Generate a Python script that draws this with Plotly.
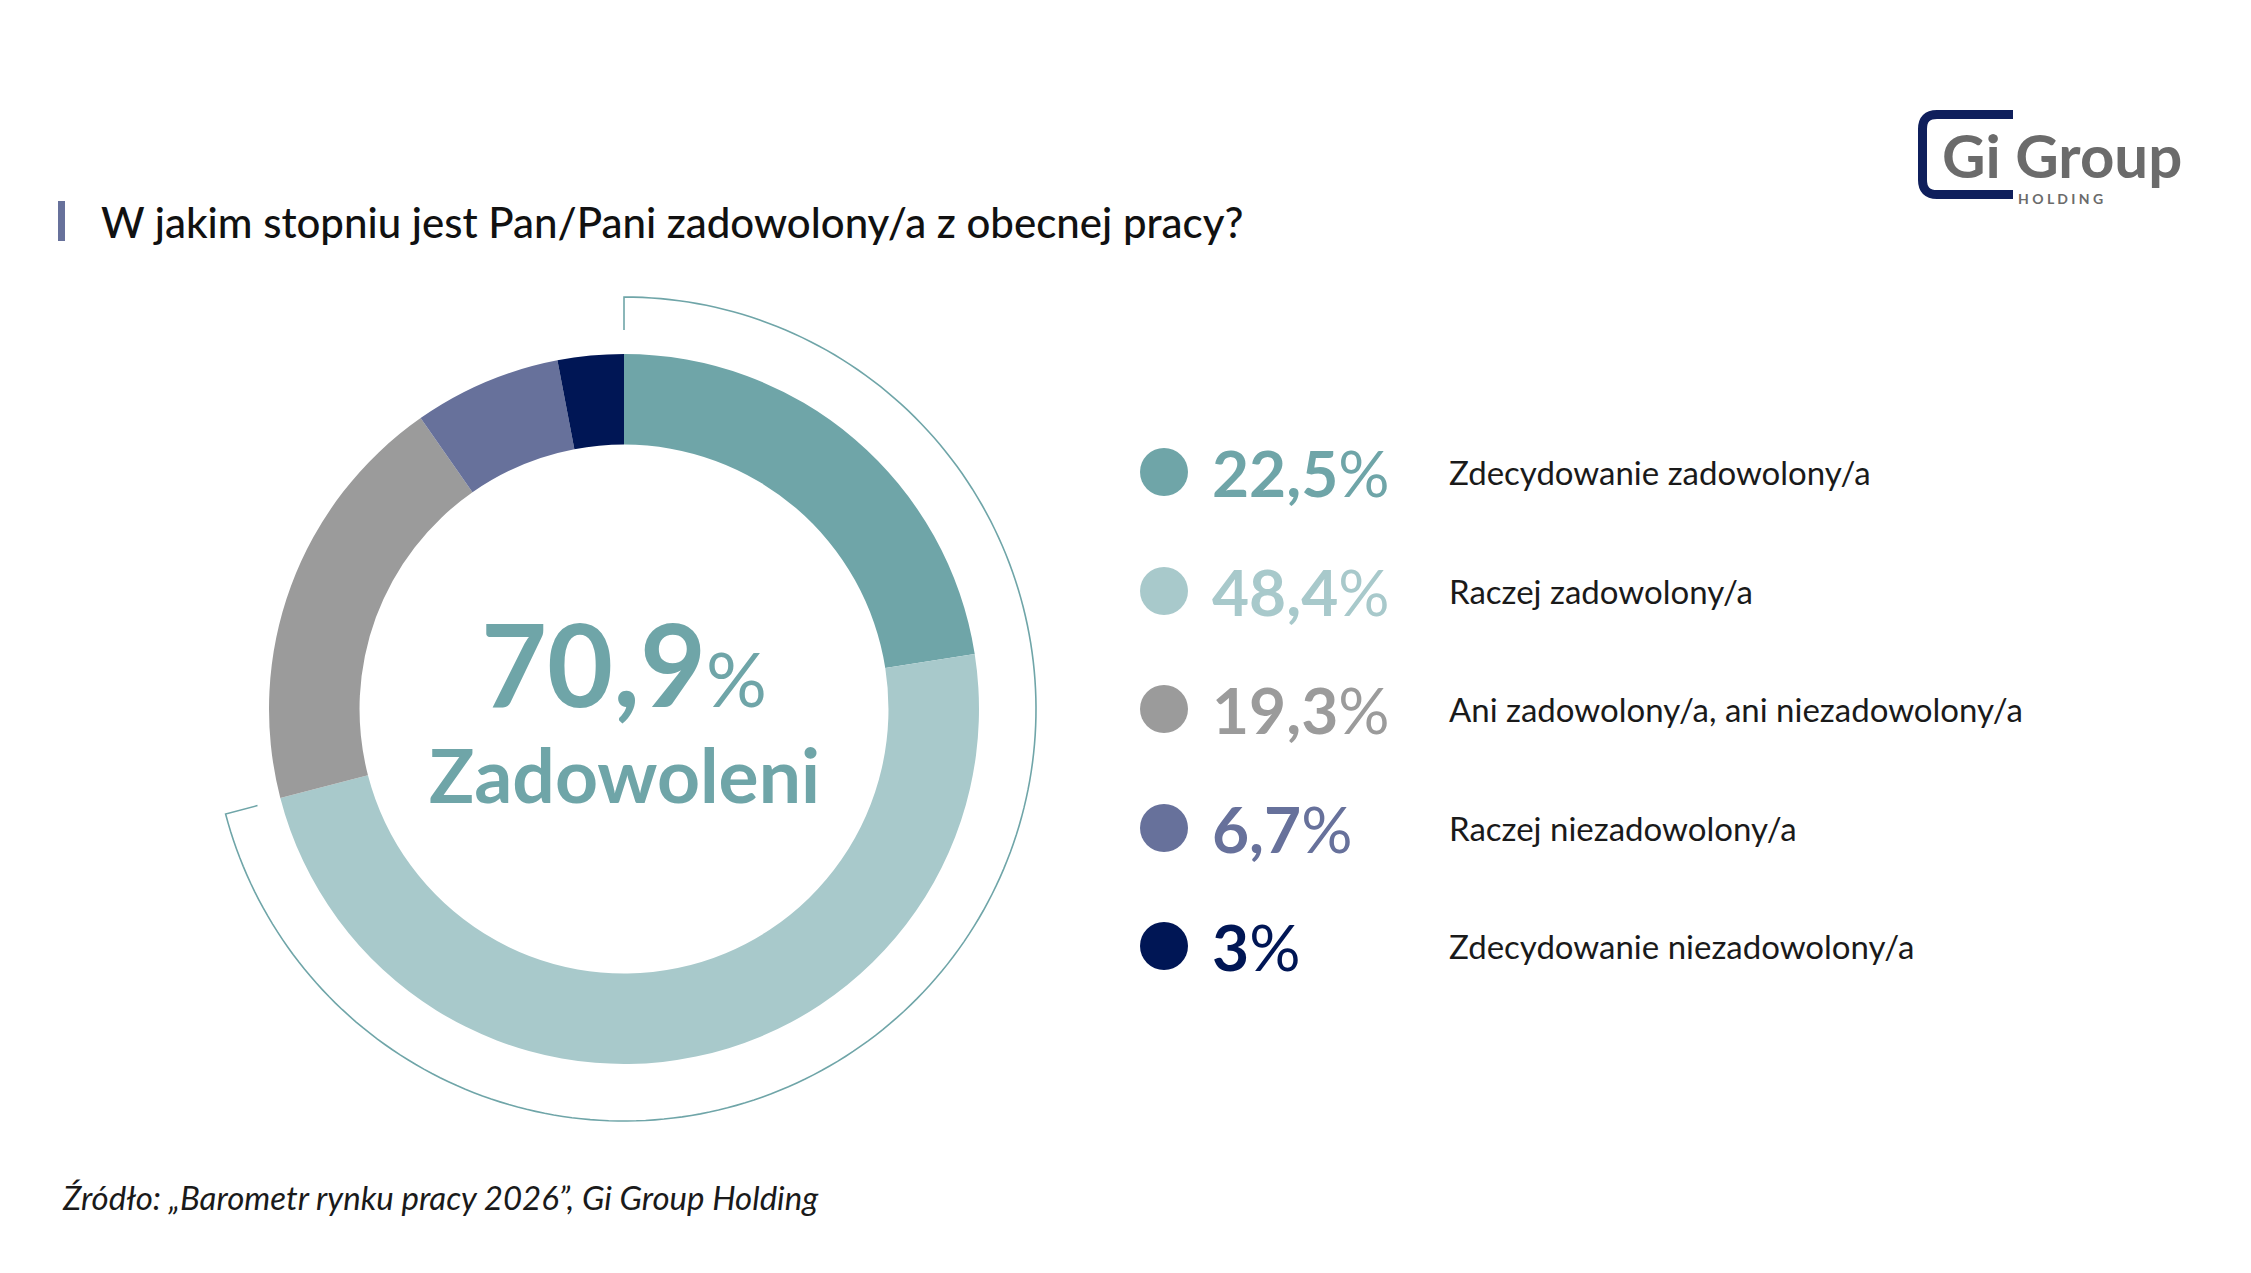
import numpy as np
import plotly.graph_objects as go

# ---------------- data ----------------
categories = [
    "Zdecydowanie zadowolony/a",
    "Raczej zadowolony/a",
    "Ani zadowolony/a, ani niezadowolony/a",
    "Raczej niezadowolony/a",
    "Zdecydowanie niezadowolony/a",
]
values = [22.5, 48.4, 19.3, 6.7, 3.0]
colors = ["#6fa5a8", "#a8c9cb", "#9b9b9b", "#67719b", "#001655"]
title_text = "W jakim stopniu jest Pan/Pani zadowolony/a z obecnej pracy?"
center_label = "Zadowoleni"
source_text = "Źródło: „Barometr rynku pracy 2026”, Gi Group Holding"

# ---------------- layout constants (pixels) ----------------
W, H = 2251, 1273
CX, CY, R = 624, 709, 355
HOLE = 0.745
ARC_R, TICK = 412, 33
ROW_Y = [472, 591, 709, 828, 946]
DOT_X, PCT_X, LAB_X = 1164, 1210, 1447
FONT = "Lato"


def fmt(v):
    return f"{v:g}".replace(".", ",")


fig = go.Figure()

fig.add_trace(go.Pie(
    values=values, labels=categories, sort=False, direction="clockwise", rotation=0,
    hole=HOLE, marker=dict(colors=colors, line=dict(width=0)),
    textinfo="none", hoverinfo="label+percent", showlegend=False,
    domain=dict(x=[(CX - R) / W, (CX + R) / W], y=[1 - (CY + R) / H, 1 - (CY - R) / H]),
))

# legend dots
fig.add_trace(go.Scatter(
    x=[DOT_X] * len(values), y=ROW_Y, mode="markers",
    marker=dict(size=48, color=colors, line=dict(width=0)),
    hoverinfo="skip", showlegend=False,
))

annotations = []
for v, c, lab, y in zip(values, colors, categories, ROW_Y):
    annotations.append(dict(
        x=PCT_X, y=y, xref="x", yref="y", xanchor="left", yanchor="middle",
        text=f"<b>{fmt(v)}</b>%", showarrow=False,
        font=dict(family=FONT, size=64, color=c)))
    annotations.append(dict(
        x=LAB_X, y=y, xref="x", yref="y", xanchor="left", yanchor="middle",
        text=lab, showarrow=False,
        font=dict(family=FONT, size=33, color="#1a1a1a")))

satisfied = values[0] + values[1]
annotations.append(dict(
    x=CX, y=662, xref="x", yref="y", xanchor="center", yanchor="middle",
    text=f"<b>{fmt(round(satisfied, 1))}</b><span style='font-size:76px'>%</span>",
    showarrow=False, font=dict(family=FONT, size=114, color=colors[0])))
annotations.append(dict(
    x=CX, y=774, xref="x", yref="y", xanchor="center", yanchor="middle",
    text=f"<b>{center_label}</b>", showarrow=False,
    font=dict(family=FONT, size=75, color=colors[0])))

# title
annotations.append(dict(
    x=99, y=222, xref="x", yref="y", xanchor="left", yanchor="middle",
    text=title_text, showarrow=False,
    font=dict(family=FONT, size=42, color="#111111", weight=500)))
# source
annotations.append(dict(
    x=60, y=1197, xref="x", yref="y", xanchor="left", yanchor="middle",
    text=f"<i>{source_text}</i>", showarrow=False,
    font=dict(family=FONT, size=33, color="#1a1a1a")))
# logo text
annotations.append(dict(
    x=1940, y=155, xref="x", yref="y", xanchor="left", yanchor="middle",
    text="<b>Gi Group</b>", showarrow=False,
    font=dict(family=FONT, size=60, color="#6b6b6b", weight=900)))
annotations.append(dict(
    x=2016, y=198, xref="x", yref="y", xanchor="left", yanchor="middle",
    text="<b>H O L D I N G</b>", showarrow=False,
    font=dict(family=FONT, size=14, color="#6b6b6b")))

shapes = []
# arc around the satisfied share
theta = np.linspace(0, 2 * np.pi * satisfied / 100, 200)
ax = CX + ARC_R * np.sin(theta)
ay = CY - ARC_R * np.cos(theta)
t0, t1 = theta[0], theta[-1]
path = f"M {CX + (ARC_R - TICK) * np.sin(t0)},{CY - (ARC_R - TICK) * np.cos(t0)} "
path += " ".join(f"L {x:.2f},{y:.2f}" for x, y in zip(ax, ay))
path += f" L {CX + (ARC_R - TICK) * np.sin(t1):.2f},{CY - (ARC_R - TICK) * np.cos(t1):.2f}"
shapes.append(dict(type="path", xref="x", yref="y", path=path,
                   line=dict(color=colors[0], width=1.6)))
# title bar
shapes.append(dict(type="rect", xref="x", yref="y", x0=58, x1=65, y0=201, y1=241,
                   fillcolor="#67719b", line=dict(width=0)))
# logo bracket
shapes.append(dict(type="path", xref="x", yref="y",
                   path="M 2013,114.5 L 1937,114.5 Q 1922.5,114.5 1922.5,129 L 1922.5,180 Q 1922.5,194.5 1937,194.5 L 2013,194.5",
                   line=dict(color="#0f1f5c", width=9)))

fig.update_layout(
    width=W, height=H, margin=dict(l=0, r=0, t=0, b=0),
    paper_bgcolor="white", plot_bgcolor="white",
    xaxis=dict(range=[0, W], visible=False, fixedrange=True),
    yaxis=dict(range=[H, 0], visible=False, fixedrange=True),
    annotations=annotations, shapes=shapes, showlegend=False,
)

fig.write_html("out.html")
